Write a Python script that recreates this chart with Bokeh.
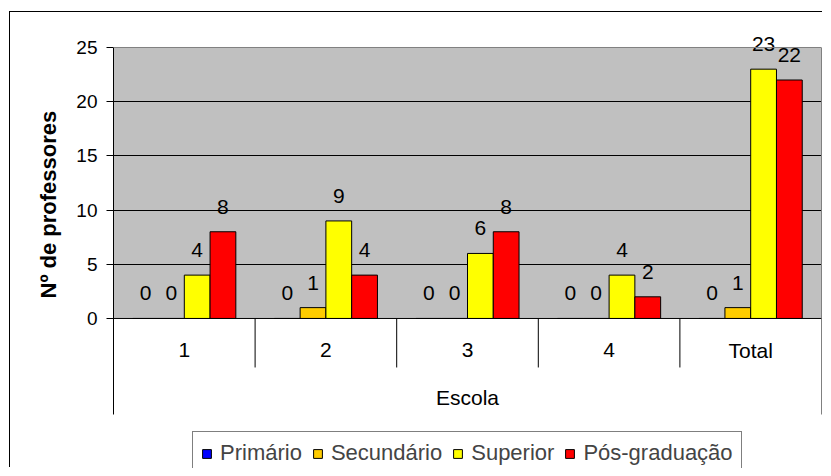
from bokeh.plotting import figure
from bokeh.models import (FactorRange, Range1d, FixedTicker, LinearAxis, Span,
                          BoxAnnotation, Legend, LegendItem, ColumnDataSource, Title)
from bokeh.transform import dodge
from bokeh.core.properties import value
from bokeh.embed import file_html
from bokeh.resources import INLINE

# ---- data ----
escolas = ["1", "2", "3", "4", "Total"]
series_names = ["Primário", "Secundário", "Superior", "Pós-graduação"]
primario = [0, 0, 0, 0, 0]
secundario = [0, 1, 0, 0, 1]
superior = [4, 9, 6, 4, 23]
pos_graduacao = [8, 4, 8, 2, 22]
series_colors = ["#0000FF", "#FFCC00", "#FFFF00", "#FF0000"]
y_ticks = [0, 5, 10, 15, 20, 25]
grid_ticks = [5, 10, 15, 20]
x_title = "Escola"
y_title = "Nº de professores"

FONT = "Liberation Sans"

src = ColumnDataSource(dict(
    escola=escolas,
    primario=primario, secundario=secundario, superior=superior, pos=pos_graduacao,
    primario_t=[str(v) for v in primario], secundario_t=[str(v) for v in secundario],
    superior_t=[str(v) for v in superior], pos_t=[str(v) for v in pos_graduacao],
))
sep_src = ColumnDataSource(dict(escola=escolas[:-1]))

Y0, Y1 = -13.84, 27.49

p = figure(width=813, height=456,
           x_range=FactorRange(factors=escolas, range_padding=0),
           y_range=Range1d(Y0, Y1),
           output_backend="svg", toolbar_location=None,
           x_axis_location=None,
           min_border_left=103, min_border_right=2, min_border_top=8, min_border_bottom=0)
p.outline_line_color = None
p.background_fill_color = "white"
p.border_fill_color = "white"
p.margin = (11, 0, 0, 9)
p.styles = {"border-left": "1px solid black", "border-top": "1px solid black"}

# plot area
p.add_layout(BoxAnnotation(bottom=0, top=25, fill_color="#C0C0C0", fill_alpha=1,
                           line_color=None, level="image"))
p.xgrid.visible = False
p.ygrid.ticker = FixedTicker(ticks=grid_ticks)
p.ygrid.grid_line_color = "#000000"
p.ygrid.grid_line_width = 1

# y axis
ya = p.yaxis[0]
ya.ticker = FixedTicker(ticks=y_ticks)
ya.bounds = (-8.86, 25)
ya.axis_line_color = "black"
ya.major_tick_out = 7
ya.major_tick_in = 0
ya.minor_tick_line_color = None
ya.major_label_standoff = 9
ya.major_label_text_font = FONT
ya.major_label_text_font_size = "19px"
ya.major_label_text_color = "black"

p.add_layout(Title(text=y_title, text_font=FONT, text_font_style="bold",
                   text_font_size="22px", text_color="black",
                   align="left", offset=170, standoff=26), "left")

# right border of plot area
ra = LinearAxis(ticker=FixedTicker(ticks=[]), bounds=(-8.86, 25), axis_line_color="#808080",
                major_tick_out=0, major_tick_in=0, minor_tick_out=0, minor_tick_in=0,
                major_label_standoff=0)
p.add_layout(ra, "right")

# top border of plot area
p.add_layout(Span(location=25, dimension="width", line_color="#808080", line_width=1))

# category separators
p.segment(x0=dodge("escola", 0.5, range=p.x_range), y0=0,
          x1=dodge("escola", 0.5, range=p.x_range), y1=-4.52,
          source=sep_src, line_color="black", line_width=1)

# bars
keys = ["primario", "secundario", "superior", "pos"]
offsets = [-0.273, -0.091, 0.091, 0.273]
bar_w = 0.182
items = []
for key, name, color, off in zip(keys, series_names, series_colors, offsets):
    r = p.vbar(x=dodge("escola", off, range=p.x_range), top=key, width=bar_w, bottom=0,
               source=src, fill_color=color, line_color="black", line_width=1)
    p.text(x=dodge("escola", off, range=p.x_range), y=key, text=key + "_t", source=src,
           text_font=value(FONT), text_font_size="21px", text_color="black",
           text_align="center", text_baseline="middle", y_offset=-25)
    items.append(LegendItem(label=name, renderers=[r]))

p.add_layout(Span(location=0, dimension="width", line_color="black", line_width=1))

# category labels and axis title
p.text(x="escola", y=-2.91, text="escola", source=src,
       text_font=value(FONT), text_font_size="21px", text_color="black",
       text_align="center", text_baseline="middle")
p.text(x=[escolas[2]], y=[-7.29], text=[x_title],
       text_font=value(FONT), text_font_size="21px", text_color="black",
       text_align="center", text_baseline="middle")

legend = Legend(items=items, orientation="horizontal", location=(79, -7),
                label_text_font=FONT, label_text_font_size="22px",
                glyph_width=11, glyph_height=11, label_standoff=8, spacing=10,
                padding=8, margin=0, label_height=22,
                border_line_color="black", border_line_width=1,
                background_fill_color="white", background_fill_alpha=1)
p.add_layout(legend)

open("out.html", "w").write(file_html(p, INLINE))
